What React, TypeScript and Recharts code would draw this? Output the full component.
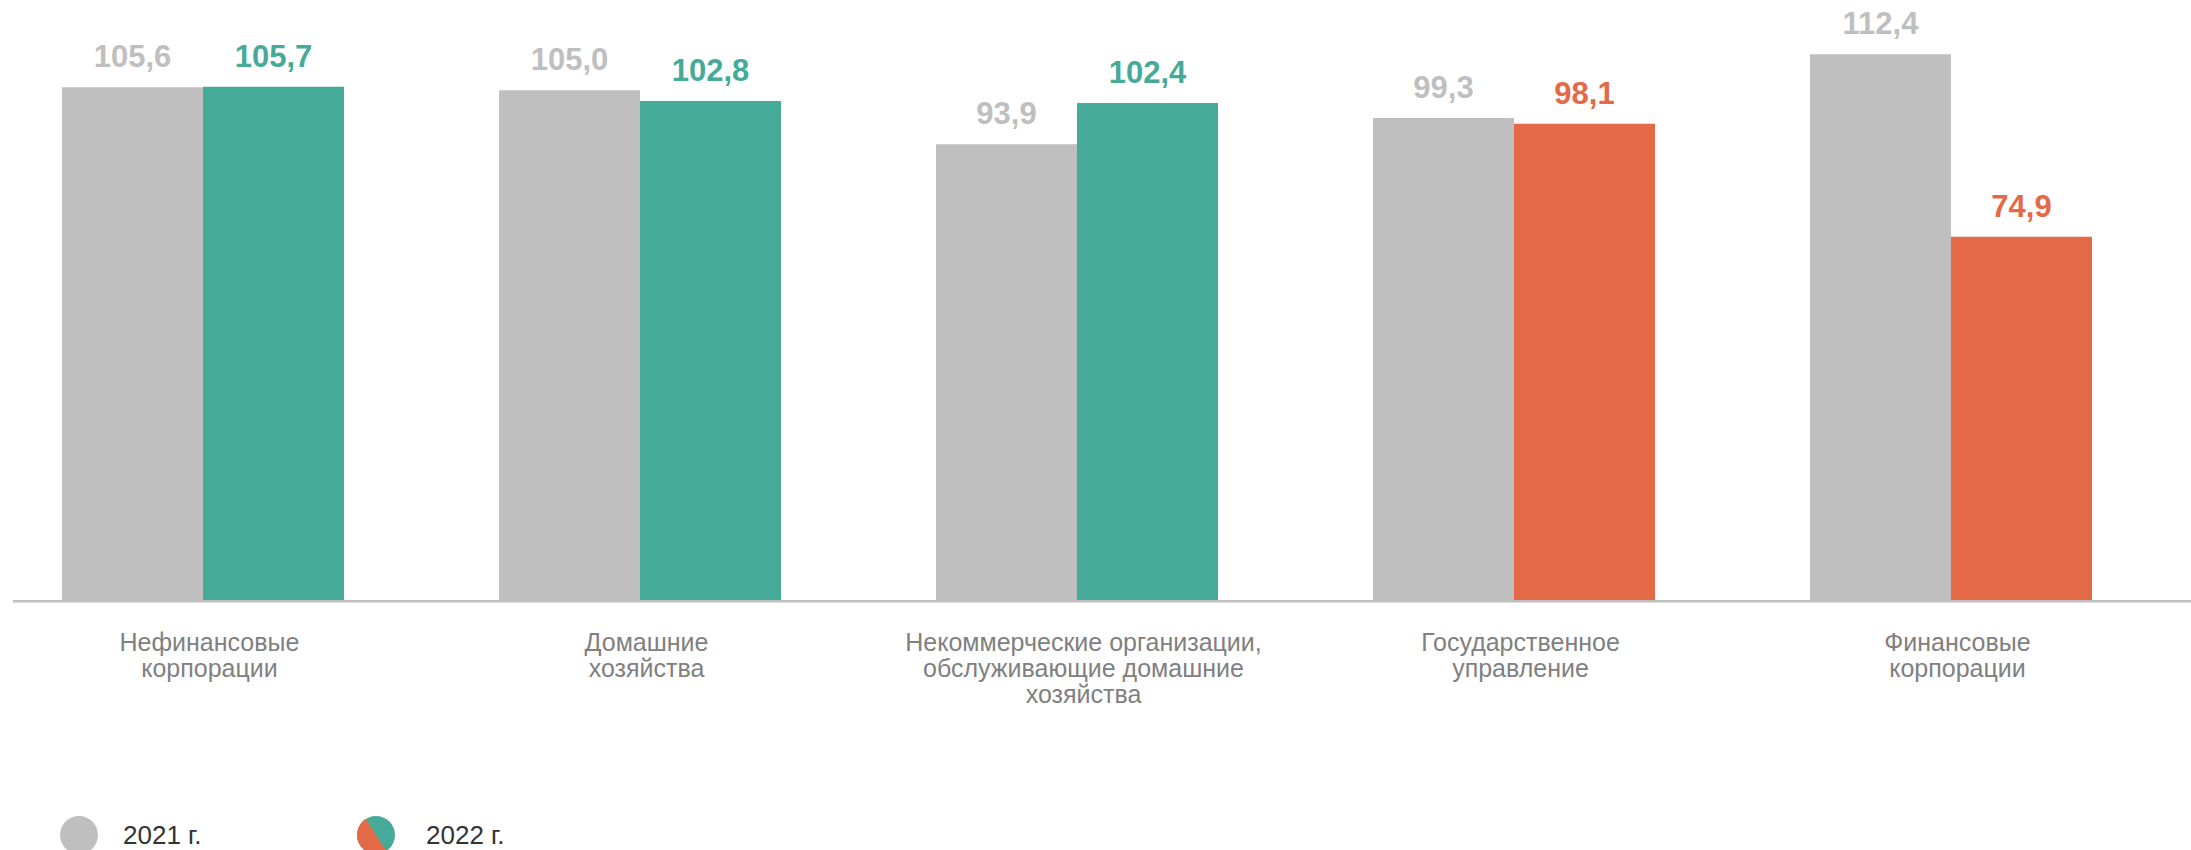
import React from 'react';
import { BarChart, Bar, XAxis, YAxis, Cell, LabelList, Legend } from 'recharts';

const categories = [
  'Нефинансовые корпорации',
  'Домашние хозяйства',
  'Некоммерческие организации, обслуживающие домашние хозяйства',
  'Государственное управление',
  'Финансовые корпорации',
];
const tickLines = [
  ['Нефинансовые', 'корпорации'],
  ['Домашние', 'хозяйства'],
  ['Некоммерческие организации,', 'обслуживающие домашние', 'хозяйства'],
  ['Государственное', 'управление'],
  ['Финансовые', 'корпорации'],
];
const values2021 = [105.6, 105.0, 93.9, 99.3, 112.4];
const values2022 = [105.7, 102.8, 102.4, 98.1, 74.9];
const seriesNames = ['2021 г.', '2022 г.'];

const GRAY = '#bfbfbf';
const TEAL = '#46aa98';
const ORANGE = '#e36947';
const FONT = '"Liberation Sans", Arial, sans-serif';

const data = categories.map((c, i) => ({ category: c, y2021: values2021[i], y2022: values2022[i] }));

const fmt = (v: number) => v.toFixed(1).replace('.', ',');
const color2022 = (v: number) => (v >= 100 ? TEAL : ORANGE);

const CategoryTick = (props: any) => {
  const { x, y, payload } = props;
  const idx = categories.indexOf(payload.value);
  const lines = idx >= 0 ? tickLines[idx] : [String(payload.value)];
  const tx = x + 7;
  return (
    <text x={tx} y={y} textAnchor="middle" fill="#808080" fontSize={25} fontFamily={FONT}>
      {lines.map((l, i) => (
        <tspan key={i} x={tx} dy={i === 0 ? 50 : 26}>
          {l}
        </tspan>
      ))}
    </text>
  );
};

const makeLabel = (colorFn: (v: number) => string) => (props: any) => {
  const vb = props.viewBox ?? props;
  const x = vb.x ?? props.x;
  const y = vb.y ?? props.y;
  const width = vb.width ?? props.width;
  const value = Number(props.value);
  return (
    <text
      x={x + width / 2}
      y={y - 20}
      textAnchor="middle"
      fill={colorFn(value)}
      fontSize={31}
      fontWeight="bold"
      fontFamily={FONT}
    >
      {fmt(value)}
    </text>
  );
};

const Label2021 = makeLabel(() => GRAY);
const Label2022 = makeLabel(color2022);

const r = 19;
const a1 = (57 * Math.PI) / 180;
const a2 = (237 * Math.PI) / 180;

const LegendContent = () => (
  <div
    style={{
      display: 'flex',
      alignItems: 'center',
      paddingLeft: 60,
      fontFamily: FONT,
      fontSize: 26,
      color: '#333333',
    }}
  >
    <div style={{ display: 'flex', alignItems: 'center', width: 297 }}>
      <svg width={2 * r} height={2 * r}>
        <circle cx={r} cy={r} r={r} fill={GRAY} />
      </svg>
      <span style={{ marginLeft: 25 }}>{seriesNames[0]}</span>
    </div>
    <div style={{ display: 'flex', alignItems: 'center' }}>
      <svg width={2 * r} height={2 * r}>
        <circle cx={r} cy={r} r={r} fill={TEAL} />
        <path
          d={`M ${r + r * Math.cos(a1)} ${r + r * Math.sin(a1)} A ${r} ${r} 0 0 1 ${r + r * Math.cos(a2)} ${
            r + r * Math.sin(a2)
          } Z`}
          fill={ORANGE}
        />
      </svg>
      <span style={{ marginLeft: 31 }}>{seriesNames[1]}</span>
    </div>
  </div>
);

export default function App() {
  return (
    <div style={{ position: 'absolute', left: 0, top: 0, width: 2191, height: 850, background: '#fff' }}>
      <BarChart
        width={2191}
        height={850}
        data={data}
        margin={{ top: 17.25, right: 0, bottom: 0, left: 13 }}
        barGap={0}
      >
        <XAxis
          dataKey="category"
          interval={0}
          tickLine={false}
          tickSize={0}
          tickMargin={0}
          axisLine={{ stroke: GRAY, strokeWidth: 2.5 }}
          height={248.75}
          padding={{ left: -29, right: 22 }}
          tick={<CategoryTick />}
        />
        <YAxis hide width={0} domain={[0, 120]} />
        <Legend
          layout="horizontal"
          verticalAlign="middle"
          align="center"
          content={<LegendContent />}
          wrapperStyle={{ left: 0, top: 816, width: 700, height: 40 }}
        />
        <Bar dataKey="y2021" name={seriesNames[0]} fill={GRAY} barSize={141} isAnimationActive={false}>
          <LabelList dataKey="y2021" content={Label2021} />
        </Bar>
        <Bar dataKey="y2022" name={seriesNames[1]} fill={TEAL} barSize={141} isAnimationActive={false}>
          {data.map((d, i) => (
            <Cell key={i} fill={color2022(d.y2022)} />
          ))}
          <LabelList dataKey="y2022" content={Label2022} />
        </Bar>
      </BarChart>
    </div>
  );
}
